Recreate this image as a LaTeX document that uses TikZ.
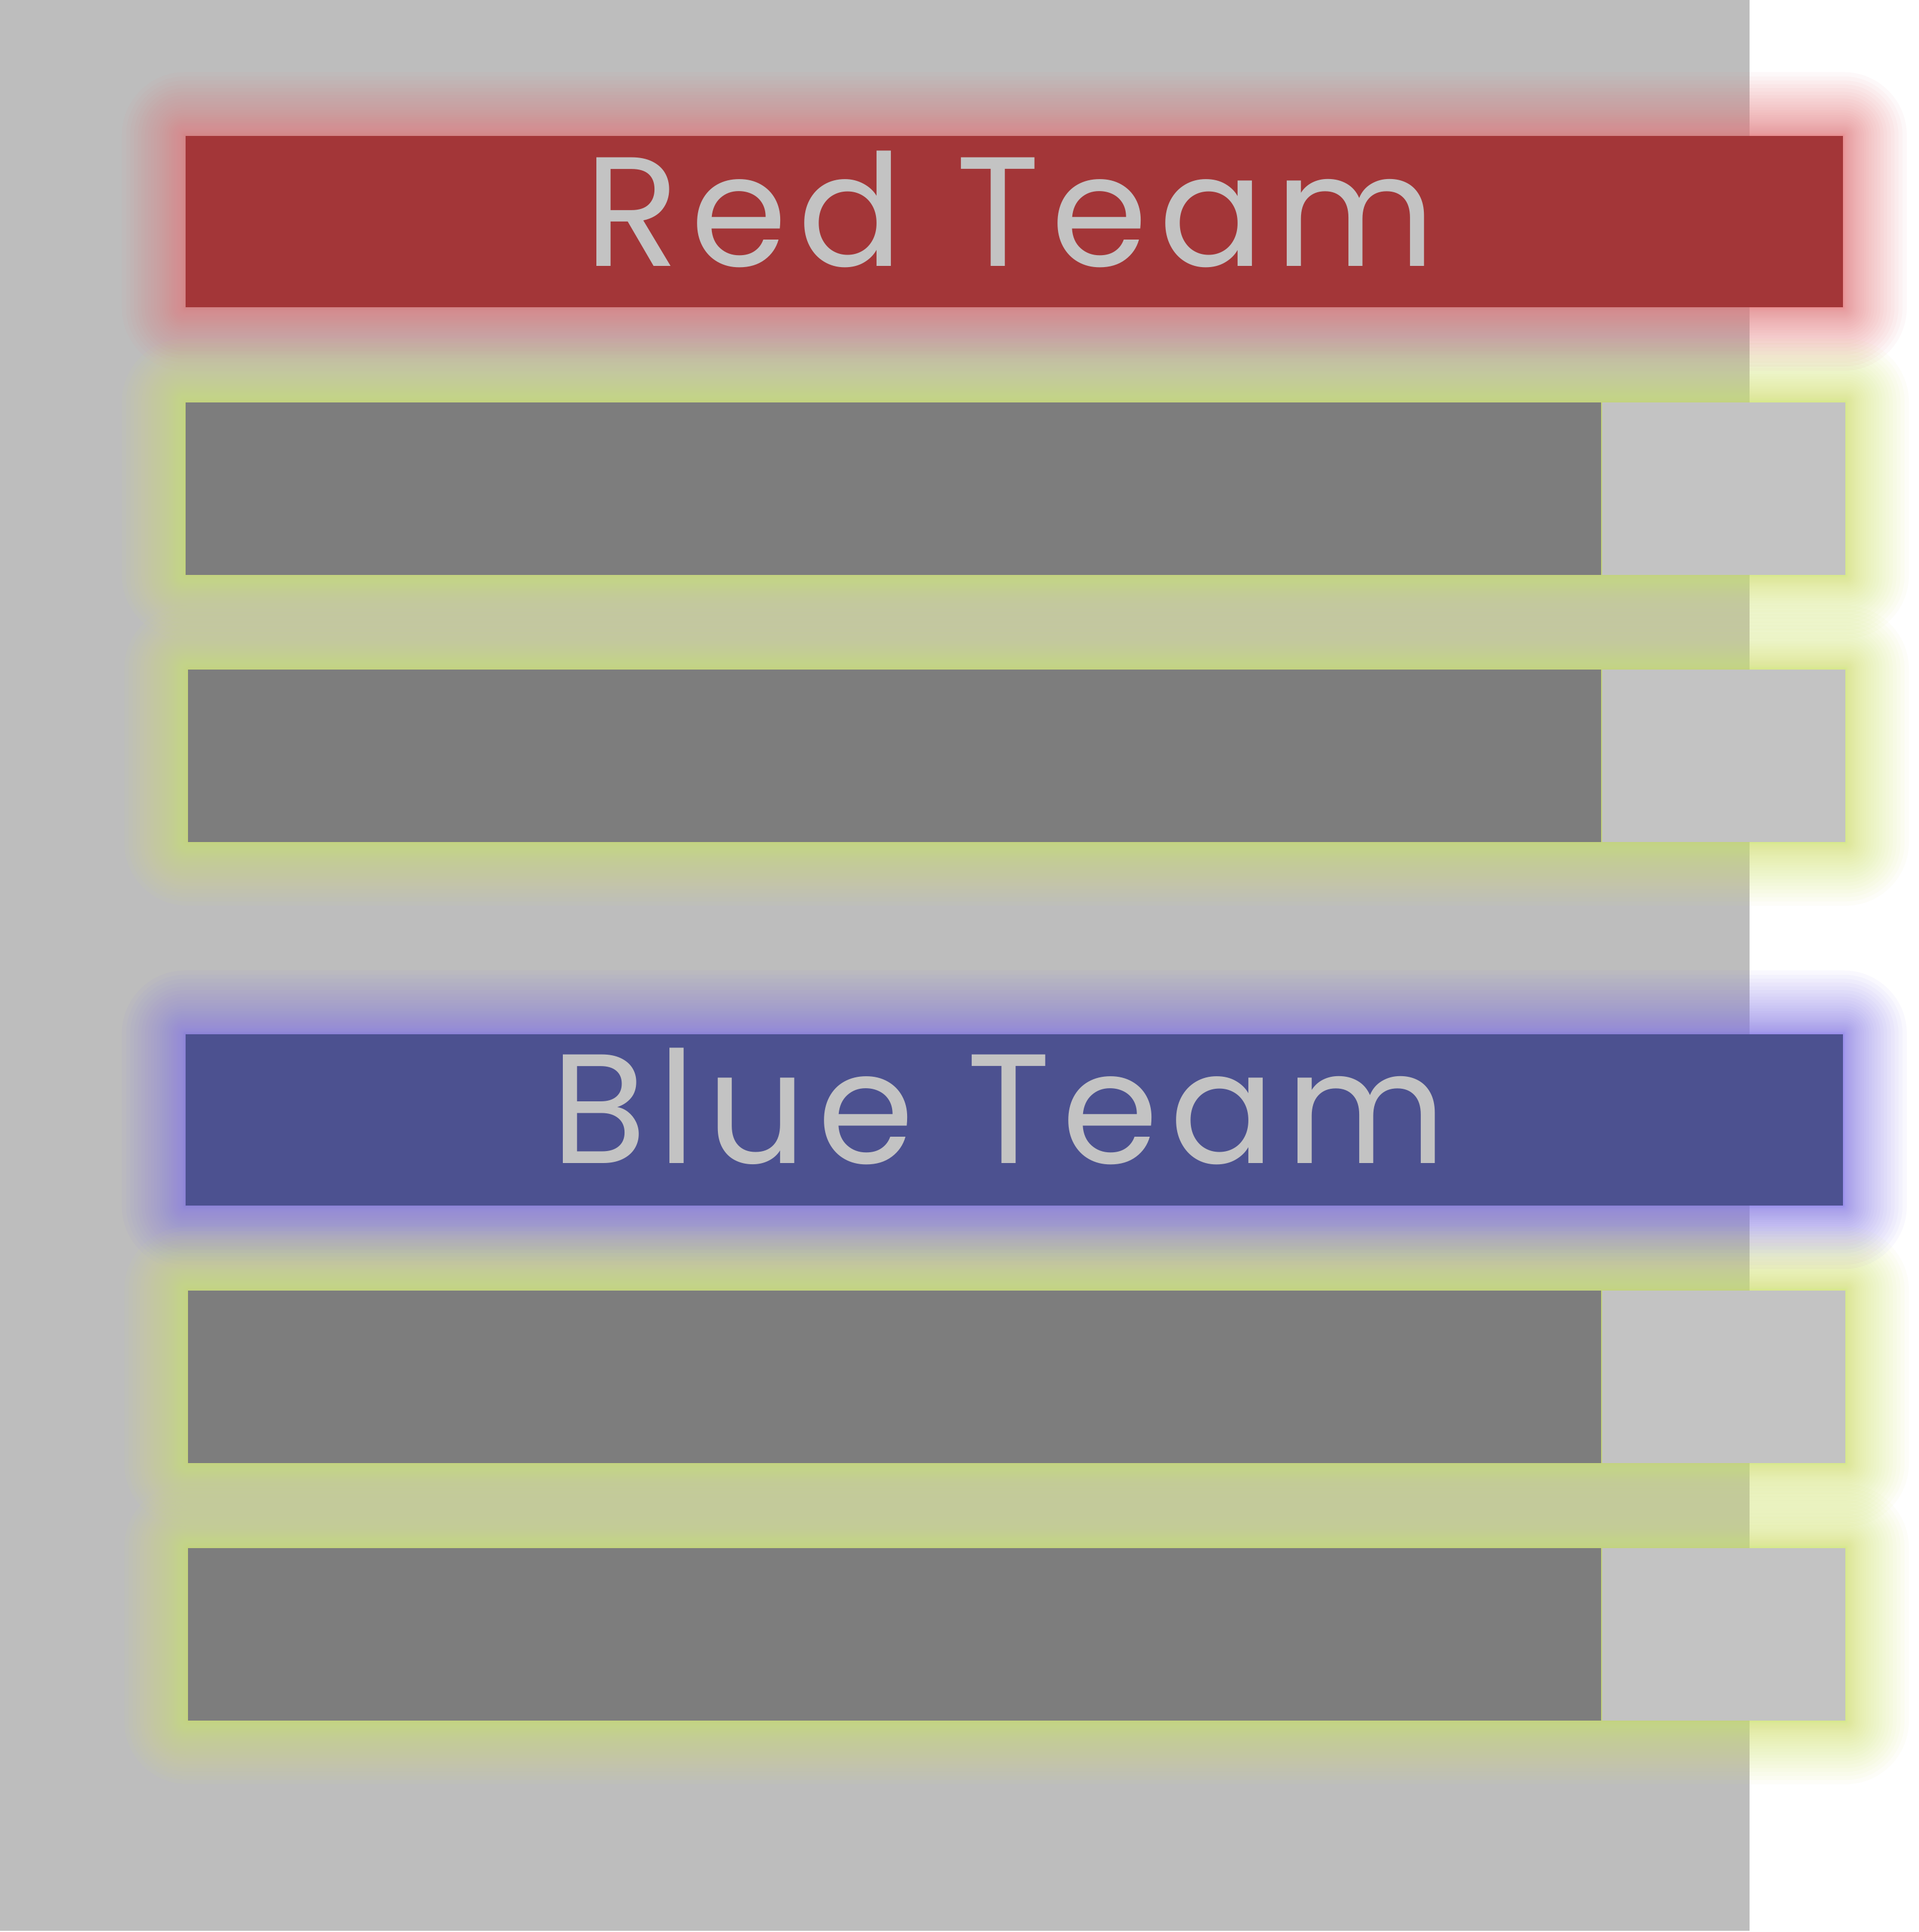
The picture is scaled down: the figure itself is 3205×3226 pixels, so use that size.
\documentclass[tikz,border=0pt]{standalone}
\usepackage{fontspec}
\setmainfont{Poppins}
\newfontfamily\teamfont[LetterSpace=7]{Poppins}
\usetikzlibrary{calc}
\pgfdeclarelayer{back}
\pgfdeclarelayer{glow}
\pgfsetlayers{back,glow,main}
\definecolor{bgGray}{RGB}{189,189,189}
\definecolor{teamRed}{RGB}{163,54,56}
\definecolor{teamBlue}{RGB}{76,81,144}
\definecolor{barDark}{RGB}{125,125,125}
\definecolor{barLight}{RGB}{195,195,195}
\definecolor{txtGray}{RGB}{195,195,195}
\definecolor{glowRed}{RGB}{232,126,130}
\definecolor{glowBlue}{RGB}{138,125,235}
\definecolor{glowYellow}{RGB}{216,232,120}
\tikzset{
  teambox/.style={anchor=north west, inner sep=0pt, minimum width=27.67cm, minimum height=2.86cm},
  bardark/.style={anchor=north west, inner sep=0pt, fill=barDark, minimum width=23.63cm, minimum height=2.88cm},
  barlight/.style={anchor=north west, inner sep=0pt, fill=barLight, minimum width=4.06cm, minimum height=2.88cm},
  teamlabel/.style={anchor=base, text=txtGray, font=\teamfont\fontsize{74}{80}\selectfont, inner sep=0pt}
}
\newcommand\glowaround[4]{%
  \begin{pgfonlayer}{glow}
  \foreach \k in {1,...,32}{%
    \pgfmathsetmacro\rr{0.005+1.05*(\k/32)^2.2}%
    \fill[#1, opacity=#4, rounded corners=\rr cm]
      ([shift={(-\rr cm,-\rr cm)}]#2.south west) rectangle ([shift={(\rr cm,\rr cm)}]#3.north east);
  }
  \end{pgfonlayer}}
\begin{document}
\begin{tikzpicture}[x=0.01cm,y=-0.01cm]
\useasboundingbox (0,0) rectangle (3205,3226);
\begin{pgfonlayer}{back}
\fill[white] (0,0) rectangle (3205,3226);
\fill[bgGray] (0,0) rectangle (2922,3224);
\end{pgfonlayer}
% Red team
\node[teambox, fill=teamRed] (red) at (309,226) {};
\node[teamlabel] (redlabel) at (1687,444) {Red Team};
% Red bars
\node[bardark] (r1d) at (309,671) {};
\node[barlight] (r1l) at (r1d.north east) {};
\node[bardark, minimum width=23.59cm] (r2d) at (313,1117) {};
\node[barlight] (r2l) at (r2d.north east) {};
% Blue team
\node[teambox, fill=teamBlue] (blue) at (309,1726) {};
\node[teamlabel] (bluelabel) at (1668,1942) {Blue Team};
% Blue bars
\node[bardark, minimum width=23.59cm] (b1d) at (313,2154) {};
\node[barlight] (b1l) at (b1d.north east) {};
\node[bardark, minimum width=23.59cm] (b2d) at (313,2584) {};
\node[barlight] (b2l) at (b2d.north east) {};
% Glows
\glowaround{glowRed}{red}{red}{0.047}
\glowaround{glowBlue}{blue}{blue}{0.047}
\glowaround{glowYellow}{r1d}{r1l}{0.047}
\glowaround{glowYellow}{r2d}{r2l}{0.047}
\glowaround{glowYellow}{b1d}{b1l}{0.047}
\glowaround{glowYellow}{b2d}{b2l}{0.047}
\end{tikzpicture}
\end{document}
